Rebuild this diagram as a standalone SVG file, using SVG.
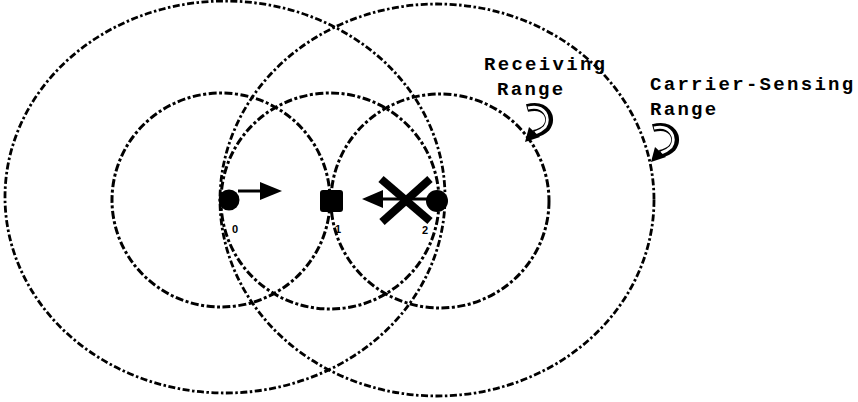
<svg xmlns="http://www.w3.org/2000/svg" width="858" height="402" viewBox="0 0 858 402">
<style>
.big{fill:none;stroke:#000;stroke-width:2.8;stroke-dasharray:7 2.5 2.5 2.5}
.small{fill:none;stroke:#000;stroke-width:3;stroke-dasharray:8 2.5 3 2.5}
.lbl{font-family:"Liberation Mono","Courier New",monospace;font-weight:bold;font-size:19px;letter-spacing:2.3px;fill:#000}
.num{font-family:"Liberation Sans",Arial,sans-serif;font-weight:bold;font-size:11px;fill:#000}
.hookO{fill:none;stroke:#000;stroke-width:8;stroke-linecap:butt}
.hookI{fill:none;stroke:#fff;stroke-width:3}
</style>
<rect width="858" height="402" fill="#fff"/>
<g id="ranges">
<ellipse id="cs0" class="big" cx="225" cy="197" rx="220" ry="196"/>
<ellipse id="cs2" class="big" cx="437" cy="200" rx="217" ry="196"/>
<ellipse id="rx0" class="small" cx="221" cy="200" rx="109" ry="107"/>
<ellipse id="rx1" class="small" cx="330" cy="201" rx="109" ry="108"/>
<ellipse id="rx2" class="small" cx="440" cy="201" rx="109" ry="107"/>
</g>
<g id="node0">
<circle cx="229" cy="200" r="10.5" fill="#000"/>
<text class="num" x="235" y="233" text-anchor="middle">0</text>
</g>
<g id="node1">
<rect x="320" y="190" width="23" height="22" rx="3" fill="#000"/>
<text class="num" x="338" y="233" text-anchor="middle">1</text>
</g>
<g id="node2">
<circle cx="437" cy="201" r="11" fill="#000"/>
<text class="num" x="425" y="234" text-anchor="middle">2</text>
</g>
<g id="connectors">
<line x1="238" y1="191" x2="262" y2="191" stroke="#000" stroke-width="3"/>
<polygon points="260,182 282,191 260,200" fill="#000"/>
<line x1="428" y1="199" x2="380" y2="199" stroke="#000" stroke-width="3"/>
<polygon points="383,190 362,199 383,208" fill="#000"/>
<g id="cross" stroke="#000" stroke-width="8" stroke-linecap="butt">
<line x1="381" y1="179" x2="430" y2="221"/>
<line x1="430" y1="179" x2="382" y2="222"/>
</g>
</g>
<g id="label-receiving">
<text class="lbl" x="484" y="70">Receiving</text>
<text class="lbl" x="497" y="95">Range</text>
<path class="hookO" d="M527,108 C546,103 554,118 546,128 C542,132 538,133 534,134"/>
<path class="hookI" d="M528,108 C545,104 551,118 545,127 C541,131 538,132 535,133"/>
<polygon points="525,142 529,127 540,137" fill="#000"/>
</g>
<g id="label-carrier">
<text class="lbl" x="650" y="90">Carrier-Sensing</text>
<text class="lbl" x="650" y="115">Range</text>
<path class="hookO" d="M653,128 C672,123 680,138 672,148 C668,152 664,153 660,154"/>
<path class="hookI" d="M654,128 C671,124 677,138 671,147 C667,151 664,152 661,153"/>
<polygon points="651,162 655,147 666,157" fill="#000"/>
</g>
</svg>
